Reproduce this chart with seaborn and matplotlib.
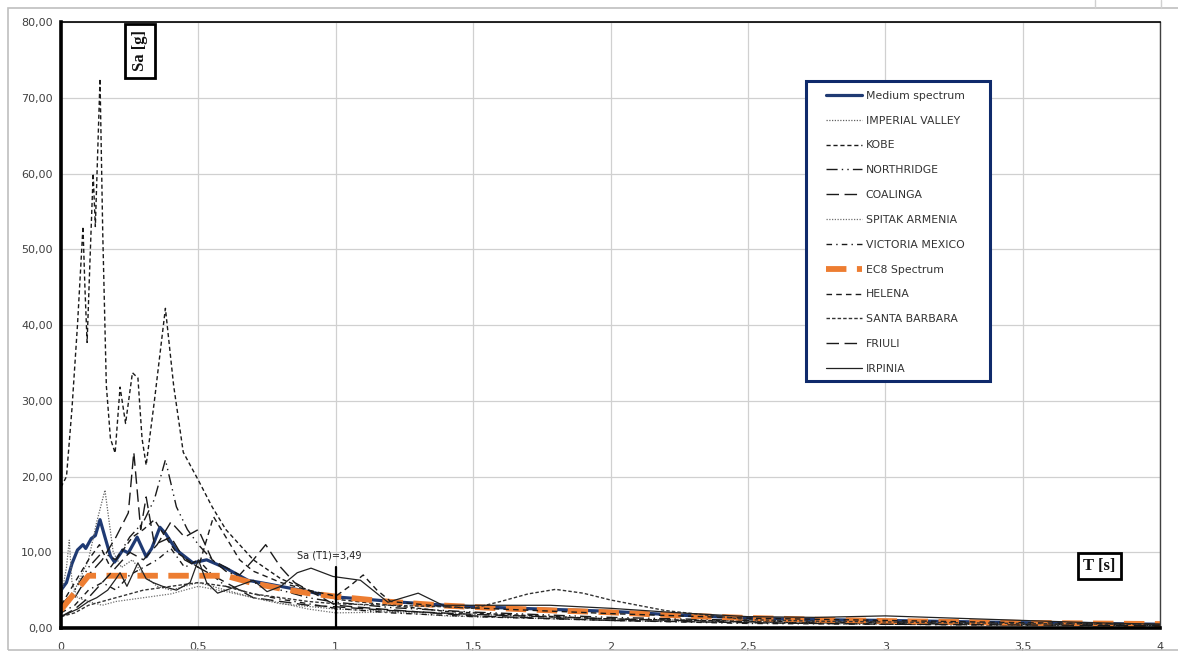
import matplotlib
matplotlib.use("Agg")
import matplotlib.pyplot as plt
from matplotlib.patches import Rectangle
from matplotlib.lines import Line2D
import seaborn as sns

# ---- spectral ordinates: period T [s] and spectral acceleration Sa [g] ----
medium_T = [0, 0.02, 0.04, 0.06, 0.08, 0.09, 0.11, 0.125, 0.142, 0.16, 0.18, 0.195, 0.225, 0.245,
            0.277, 0.31, 0.33, 0.36, 0.38, 0.42, 0.48, 0.53, 0.6, 0.68, 0.77, 0.9, 1.0, 1.14, 1.24,
            1.4, 1.5, 1.75, 2.0, 2.25, 2.5, 2.75, 3.0, 3.5, 4.0]
medium_Sa = [5.0, 6.0, 8.5, 10.3, 11.0, 10.5, 11.8, 12.2, 14.3, 12.0, 9.5, 8.7, 10.3, 9.9,
             12.0, 9.4, 10.5, 13.3, 12.5, 10.3, 8.6, 9.0, 7.9, 6.3, 5.7, 4.8, 4.1, 3.7, 3.4,
             3.0, 2.8, 2.5, 2.2, 1.7, 1.3, 1.1, 1.0, 0.7, 0.5]

imperial_T = [0, 0.05, 0.1, 0.13, 0.16, 0.19, 0.22, 0.26, 0.3, 0.35, 0.4, 0.5, 0.6, 0.7, 0.8,
              1.0, 1.2, 1.5, 2.0, 2.5, 3.0, 3.5, 4.0]
imperial_Sa = [2.0, 5.0, 9.0, 14.0, 18.2, 10.0, 8.0, 9.0, 7.0, 5.5, 5.0, 6.0, 5.0, 4.0, 3.2,
               2.5, 2.2, 1.8, 1.2, 0.9, 0.7, 0.5, 0.4]

kobe_T = [0, 0.02, 0.04, 0.06, 0.08, 0.087, 0.095, 0.105, 0.117, 0.125, 0.142, 0.152, 0.165,
          0.18, 0.197, 0.215, 0.235, 0.26, 0.28, 0.295, 0.31, 0.34, 0.38, 0.41, 0.445, 0.5, 0.55,
          0.6, 0.7, 0.8, 0.9, 1.0, 1.2, 1.4, 1.6, 1.8, 2.0, 2.5, 3.0, 3.5, 4.0]
kobe_Sa = [18.6, 20.0, 29.0, 40.0, 53.0, 45.0, 37.7, 48.0, 60.0, 53.0, 72.5, 52.0, 32.0,
           25.0, 23.1, 31.8, 27.0, 33.7, 33.0, 25.0, 21.5, 30.0, 42.2, 32.0, 23.2, 19.5, 16.0,
           13.0, 9.0, 6.5, 5.0, 3.8, 3.0, 2.2, 1.8, 1.5, 1.2, 0.9, 0.7, 0.5, 0.4]

northridge_T = [0, 0.05, 0.1, 0.15, 0.2, 0.25, 0.3, 0.34, 0.38, 0.42, 0.46, 0.5, 0.55, 0.6,
                0.7, 0.8, 0.9, 1.0, 1.2, 1.5, 2.0, 2.5, 3.0, 3.5, 4.0]
northridge_Sa = [3.0, 5.0, 8.0, 10.0, 9.0, 12.0, 14.0, 17.0, 22.2, 16.0, 13.0, 11.0, 9.0, 7.5,
                 6.0, 5.0, 4.0, 3.4, 2.7, 2.1, 1.4, 1.0, 0.8, 0.6, 0.45]

coalinga_T = [0, 0.05, 0.1, 0.15, 0.2, 0.245, 0.265, 0.29, 0.31, 0.34, 0.4, 0.45, 0.5, 0.6,
              0.7, 0.8, 0.9, 1.0, 1.2, 1.5, 2.0, 2.5, 3.0, 3.5, 4.0]
coalinga_Sa = [2.5, 4.0, 7.0, 9.0, 12.0, 15.2, 23.2, 13.0, 17.3, 11.0, 12.0, 9.0, 8.0, 6.0,
               4.0, 3.5, 3.0, 2.8, 2.3, 1.8, 1.2, 0.8, 0.6, 0.45, 0.35]

spitak_T = [0, 0.02, 0.03, 0.04, 0.06, 0.1, 0.15, 0.2, 0.3, 0.4, 0.5, 0.6, 0.7, 0.8, 0.9,
            1.0, 1.2, 1.4, 1.6, 2.0, 2.5, 3.0, 3.5, 4.0]
spitak_Sa = [4.0, 8.0, 11.6, 6.0, 4.0, 3.5, 3.0, 3.5, 4.0, 4.5, 5.5, 4.8, 4.0, 3.3, 2.5,
             2.0, 2.1, 1.6, 1.4, 1.0, 0.7, 0.5, 0.4, 0.3]

victoria_T = [0, 0.05, 0.1, 0.15, 0.2, 0.25, 0.3, 0.35, 0.4, 0.45, 0.5, 0.55, 0.6, 0.7, 0.8,
              0.9, 1.0, 1.2, 1.5, 2.0, 2.5, 3.0, 3.5, 4.0]
victoria_Sa = [2.0, 3.0, 5.0, 6.0, 5.0, 7.0, 8.0, 9.0, 10.5, 8.0, 9.0, 7.0, 5.5, 4.5, 3.8,
               3.2, 2.6, 2.0, 1.5, 1.0, 0.6, 0.5, 0.35, 0.3]

ec8_T = [0, 0.1, 0.6, 0.7, 0.8, 0.9, 1.0, 1.2, 1.4, 1.6, 1.8, 2.0, 2.25, 2.5, 2.75, 3.0, 3.5, 4.0]
ec8_Sa = [2.4, 6.9, 6.9, 5.9, 5.2, 4.6, 4.15, 3.45, 2.95, 2.6, 2.3, 2.07, 1.64, 1.33, 1.1,
          0.92, 0.68, 0.52]

helena_T = [0, 0.05, 0.1, 0.14, 0.18, 0.22, 0.26, 0.3, 0.34, 0.38, 0.42, 0.46, 0.5, 0.555,
            0.6, 0.65, 0.7, 0.8, 0.9, 1.0, 1.05, 1.1, 1.15, 1.2, 1.4, 1.6, 1.8, 2.0, 2.5, 3.0,
            3.5, 4.0]
helena_Sa = [3.0, 6.0, 9.0, 11.0, 8.0, 10.0, 12.0, 13.0, 14.3, 12.0, 10.0, 9.0, 8.0, 14.7,
             12.0, 9.0, 7.5, 6.0, 5.0, 4.2, 5.5, 7.0, 5.0, 3.5, 2.8, 2.5, 2.2, 1.9, 1.3, 1.0,
             0.7, 0.5]

santa_barbara_T = [0, 0.05, 0.1, 0.2, 0.3, 0.4, 0.5, 0.6, 0.7, 0.8, 0.9, 1.0, 1.2, 1.4, 1.5,
                   1.6, 1.7, 1.8, 1.9, 2.0, 2.2, 2.5, 2.75, 3.0, 3.5, 4.0]
santa_barbara_Sa = [1.5, 2.0, 3.0, 4.0, 5.0, 5.5, 6.0, 5.5, 4.5, 4.0, 3.5, 3.2, 3.0, 2.8, 2.6,
                    3.5, 4.5, 5.1, 4.6, 3.7, 2.3, 1.1, 0.9, 0.8, 0.6, 0.45]

friuli_T = [0, 0.05, 0.1, 0.15, 0.2, 0.25, 0.3, 0.35, 0.4, 0.45, 0.5, 0.55, 0.6, 0.65, 0.7,
            0.745, 0.8, 0.85, 0.9, 1.0, 1.2, 1.5, 2.0, 2.5, 3.0, 3.5, 4.0]
friuli_Sa = [1.5, 2.5, 4.0, 6.0, 8.0, 10.0, 9.0, 11.0, 14.0, 12.0, 13.0, 9.0, 8.0, 7.0, 9.0,
             11.0, 8.0, 6.0, 5.0, 3.0, 2.4, 1.6, 1.0, 0.7, 0.5, 0.4, 0.3]

irpinia_T = [0, 0.03, 0.06, 0.1, 0.13, 0.17, 0.2, 0.215, 0.24, 0.28, 0.31, 0.335, 0.37, 0.42,
             0.47, 0.5, 0.53, 0.57, 0.64, 0.7, 0.75, 0.8, 0.86, 0.91, 0.99, 1.09, 1.19, 1.3,
             1.39, 1.5, 1.78, 2.0, 2.25, 2.5, 2.75, 3.0, 3.25, 3.5, 3.75, 4.0]
irpinia_Sa = [1.5, 2.0, 2.5, 3.5, 4.0, 5.0, 6.5, 7.3, 5.5, 8.6, 6.5, 6.0, 5.5, 5.0,
              6.0, 9.0, 6.0, 4.6, 5.5, 6.3, 4.8, 5.5, 7.3, 7.9, 6.8, 6.3, 3.4, 4.6,
              3.0, 3.0, 3.0, 2.6, 2.0, 1.5, 1.4, 1.6, 1.3, 1.0, 0.7, 0.5]

# design period and its spectral ordinate
T1 = 1.0
Sa_T1 = 3.49

x_ticks = [0, 0.5, 1, 1.5, 2, 2.5, 3, 3.5, 4]
x_tick_labels = ["0", "0,5", "1", "1,5", "2", "2,5", "3", "3,5", "4"]
y_ticks = [0, 10, 20, 30, 40, 50, 60, 70, 80]
y_tick_labels = ["0,00", "10,00", "20,00", "30,00", "40,00", "50,00", "60,00", "70,00", "80,00"]

# ---- drawing ----
sns.set_theme(style="white")
plt.rcParams["font.family"] = ["DejaVu Sans"]

fig = plt.figure(figsize=(11.78, 6.57), dpi=100)
ax = fig.add_axes([61 / 1178, 29 / 657, 1099 / 1178, 606 / 657])

black = "#1a1a1a"
navy = "#0F2A6B"
series = [
    ("Medium spectrum", medium_T, medium_Sa, dict(color="#1F3A73", linewidth=2.3, linestyle="-")),
    ("IMPERIAL VALLEY", imperial_T, imperial_Sa, dict(color="#606060", linewidth=0.9, linestyle=(0, (1, 1.2)))),
    ("KOBE", kobe_T, kobe_Sa, dict(color=black, linewidth=1.0, linestyle=(0, (3, 2)))),
    ("NORTHRIDGE", northridge_T, northridge_Sa, dict(color=black, linewidth=1.0, linestyle=(0, (8, 3, 1, 3, 1, 3)))),
    ("COALINGA", coalinga_T, coalinga_Sa, dict(color=black, linewidth=1.0, linestyle=(0, (9, 4)))),
    ("SPITAK ARMENIA", spitak_T, spitak_Sa, dict(color="#707070", linewidth=0.9, linestyle=(0, (1, 1.2)))),
    ("VICTORIA MEXICO", victoria_T, victoria_Sa, dict(color=black, linewidth=1.0, linestyle=(0, (4, 3, 1, 3)))),
    ("EC8 Spectrum", ec8_T, ec8_Sa, dict(color="#ED7D31", linewidth=4.2, linestyle=(0, (3.5, 1.8)))),
    ("HELENA", helena_T, helena_Sa, dict(color=black, linewidth=1.0, linestyle=(0, (4, 3)))),
    ("SANTA BARBARA", santa_barbara_T, santa_barbara_Sa, dict(color="#333333", linewidth=1.0, linestyle=(0, (2.5, 1.5)))),
    ("FRIULI", friuli_T, friuli_Sa, dict(color=black, linewidth=1.0, linestyle=(0, (9, 4)))),
    ("IRPINIA", irpinia_T, irpinia_Sa, dict(color="#222222", linewidth=0.9, linestyle="-")),
]

for z, (name, t, sa, style) in enumerate(series):
    sns.lineplot(x=t, y=sa, ax=ax, label=name, estimator=None, sort=False,
                 zorder=3 + z, **style)

ax.set_xlim(0, 4)
ax.set_ylim(0, 80)
ax.set_xticks(x_ticks)
ax.set_xticklabels(x_tick_labels)
ax.set_yticks(y_ticks)
ax.set_yticklabels(y_tick_labels)
ax.tick_params(axis="both", length=0, labelsize=8, labelcolor="#404040")
ax.tick_params(axis="x", pad=10)
ax.tick_params(axis="y", pad=6)
ax.grid(True, color="#D0D0D0", linewidth=0.9)
ax.set_axisbelow(True)
ax.set_xlabel("")
ax.set_ylabel("")

for side, lw, col in [("left", 2.6, "black"), ("bottom", 2.6, "black"),
                      ("top", 1.2, "black"), ("right", 1.0, "#404040")]:
    ax.spines[side].set_visible(True)
    ax.spines[side].set_linewidth(lw)
    ax.spines[side].set_color(col)
    ax.spines[side].set_zorder(20)

# design period marker
ax.plot([T1, T1], [0, 8.1], color="black", linewidth=1.6, zorder=18)
ax.text(0.86, 9.6, f"Sa (T1)={Sa_T1:.2f}".replace(".", ","), fontsize=7, color="#222222",
        ha="left", va="center", zorder=19)

# axis titles in boxes
ax.text(0.288, 76.2, "Sa [g]", rotation=90, ha="center", va="center", fontsize=12,
        family="Liberation Serif", fontweight="bold", color="#111111", zorder=19,
        bbox=dict(boxstyle="square,pad=0.4", facecolor="white", edgecolor="black", linewidth=2))
ax.text(3.78, 8.25, "T [s]", ha="center", va="center", fontsize=12,
        family="Liberation Serif", fontweight="bold", color="#111111", zorder=19,
        bbox=dict(boxstyle="square,pad=0.3", facecolor="white", edgecolor="black", linewidth=2))

# legend box with its own frame
ax.add_patch(Rectangle((0.6779, 0.4076), 0.8453 - 0.6779, 0.9026 - 0.4076,
                       transform=ax.transAxes, facecolor="white", edgecolor=navy,
                       linewidth=2.2, zorder=28))
leg = ax.legend(loc="upper left", bbox_to_anchor=(0.696, 0.8867), fontsize=7.8,
                frameon=False, handlelength=3.3, handletextpad=0.37,
                labelspacing=1.37, borderpad=0, borderaxespad=0)
leg.set_zorder(30)
for txt in leg.get_texts():
    txt.set_color("#333333")

# surrounding sheet frame
fig.patches.append(Rectangle((8 / 1178, 7 / 657), 1.0, 642 / 657, transform=fig.transFigure,
                             fill=False, edgecolor="#BFBFBF", linewidth=1.2, zorder=0))
for xp in (1095, 1161):
    fig.lines.append(Line2D([xp / 1178, xp / 1178], [649 / 657, 1.0], transform=fig.transFigure,
                            color="#D0D0D0", linewidth=1.0))

fig.savefig("out.png", dpi=100, facecolor="white")
